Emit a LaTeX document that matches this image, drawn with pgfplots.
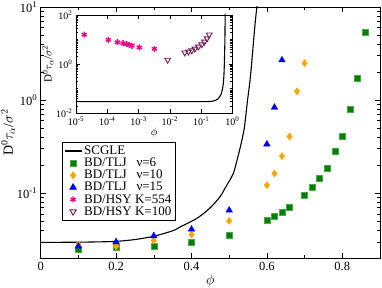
\documentclass[border=0pt]{standalone}
\usepackage{pgfplots}
\pgfplotsset{compat=1.18}
\usepackage{fontspec}
\setmainfont{Liberation Serif}
\definecolor{grn}{RGB}{0,128,0}
\definecolor{org}{RGB}{255,165,0}
\definecolor{mar}{RGB}{115,30,85}
\begin{document}
\begin{tikzpicture}
\useasboundingbox (-40.7pt,-29.7pt) rectangle (341.3pt,258.3pt);
\begin{axis}[
  at={(0pt,0pt)}, anchor=south west, scale only axis,
  width=339.3pt, height=251.3pt,
  xmin=0, xmax=0.9, ymode=log, log basis y=10, ymin=0.02, ymax=10,
  xtick={0,0.2,0.4,0.6,0.8}, minor xtick={0.1,0.3,0.5,0.7},
  xticklabel style={/pgf/number format/assume math mode=true, /pgf/number format/fixed},
  yticklabel={\pgfmathtruncatemacro\e{round(\tick)}10\textsuperscript{\e}},
  tick align=inside, axis line style={line width=0.9pt},
  major tick length=5pt, minor tick length=3pt,
  every tick/.style={black, line width=0.6pt},
  tick label style={font=\fontsize{12.5}{14}\selectfont},
  xlabel={$\phi$}, ylabel={D\textsuperscript{0}$\tau_\alpha$/$\sigma^2$},
  label style={font=\fontsize{14}{16}\selectfont},
  xlabel style={yshift=3pt}, ylabel style={yshift=-5pt},
  legend style={at={(0.0619,0.464)}, anchor=north west, draw=black, line width=0.6pt,
    font=\fontsize{13}{14}\selectfont, row sep=-2pt, inner sep=2pt},
  legend cell align=left,
]
\addplot[black, line width=1.1pt, smooth] coordinates {
 (0,0.0297) (0.05,0.0297) (0.1,0.0298) (0.15,0.0300) (0.2,0.0304) (0.25,0.0318)
 (0.3,0.0345) (0.35,0.0395) (0.37,0.0434) (0.4,0.050) (0.42,0.0556) (0.45,0.070)
 (0.475,0.091) (0.49,0.115) (0.5,0.135) (0.511,0.163) (0.52,0.22) (0.53,0.32)
 (0.54,0.50) (0.548,0.95) (0.555,1.6) (0.56,2.6) (0.565,4.5) (0.57,7.5) (0.574,10.5)};
\addlegendentry{SCGLE}
\addplot[only marks, mark=square*, mark size=3pt, color=grn, mark options={fill=grn, draw=grn!70!white}] coordinates {
 (0.1,0.025) (0.2,0.0265) (0.3,0.027) (0.4,0.030) (0.5,0.0356) (0.6,0.0508)
 (0.62,0.0566) (0.64,0.062) (0.66,0.0713) (0.70,0.0944) (0.72,0.116) (0.74,0.145)
 (0.76,0.187) (0.78,0.285) (0.80,0.413) (0.82,0.794) (0.84,1.71) (0.86,5.35)};
\addlegendentry{BD/TLJ\ \ \ ν=6}
\addplot[only marks, mark=diamond*, mark size=3.6pt, color=org] coordinates {
 (0.1,0.028) (0.2,0.0269) (0.3,0.031) (0.4,0.036) (0.5,0.0505) (0.6,0.122)
 (0.62,0.163) (0.64,0.25) (0.66,0.407) (0.68,1.24) (0.70,2.5)};
\addlegendentry{BD/TLJ\ \ \ ν=10}
\addplot[only marks, mark=triangle*, mark size=3.8pt, color=blue] coordinates {
 (0.1,0.0269) (0.2,0.030) (0.3,0.0348) (0.4,0.041) (0.5,0.0656) (0.6,0.336)
 (0.62,0.835) (0.64,2.69)};
\addlegendentry{BD/TLJ\ \ \ ν=15}
\addlegendimage{only marks, mark=asterisk, mark size=3pt, color=magenta, line width=1.3pt}
\addlegendentry{BD/HSY K=554}
\addlegendimage{only marks, mark=triangle, mark size=3.6pt, color=mar, line width=0.9pt, mark options={rotate=180}}
\addlegendentry{BD/HSY K=100}
\end{axis}
\begin{axis}[
  at={(35.3pt,145pt)}, anchor=south west, scale only axis,
  width=156.5pt, height=98.3pt,
  xmode=log, ymode=log, log basis x=10, log basis y=10,
  xmin=1e-5, xmax=1, ymin=0.01, ymax=100,
  xtick={1e-5,1e-4,1e-3,1e-2,1e-1,1},
  ytick={0.01,1,100},
  minor ytick={0.02,0.03,0.04,0.05,0.06,0.07,0.08,0.09,0.1,0.2,0.3,0.4,0.5,0.6,0.7,0.8,0.9,
    2,3,4,5,6,7,8,9,10,20,30,40,50,60,70,80,90},
  xticklabel={\pgfmathtruncatemacro\e{round(\tick)}10\textsuperscript{\e}},
  yticklabel={\pgfmathtruncatemacro\e{round(\tick)}10\textsuperscript{\e}},
  tick align=inside, axis line style={line width=0.9pt},
  major tick length=4pt, minor tick length=2.5pt,
  every tick/.style={black, line width=0.5pt},
  tick label style={font=\fontsize{10}{11}\selectfont},
  xlabel={$\phi$}, ylabel={D\textsuperscript{0}$\tau_\alpha$/$\sigma^2$},
  label style={font=\fontsize{11}{12}\selectfont},
  xlabel style={yshift=4pt}, ylabel style={yshift=-4pt},
  axis background/.style={fill=white},
]
\addplot[black, line width=1.1pt, smooth] coordinates {
 (0.00001,0.0297) (0.001,0.0297) (0.05,0.0297) (0.1,0.0298) (0.15,0.0300) (0.2,0.0304) (0.25,0.0318)
 (0.3,0.0345) (0.35,0.0395) (0.4,0.050) (0.45,0.070)
 (0.5,0.135) (0.53,0.32) (0.548,0.95) (0.56,2.6) (0.57,7.5) (0.576,20) (0.58,60) (0.583,150)};
\addplot[only marks, mark=asterisk, mark size=3pt, color=magenta, line width=1.3pt] coordinates {
 (1.84e-5,15.8) (1.08e-4,9.7) (2.1e-4,7.8) (3.2e-4,7.1) (4.2e-4,6.5) (5e-4,6.1)
 (6.1e-4,5.6) (1.05e-3,4.8) (3.2e-3,4.2)};
\addplot[only marks, mark=triangle, mark size=3.3pt, color=mar, line width=0.9pt, mark options={rotate=180}] coordinates {
 (8.5e-3,1.49) (0.030,2.93) (0.039,3.2) (0.050,3.6) (0.063,4.2) (0.081,5.1)
 (0.104,6.3) (0.126,8.1) (0.154,11) (0.18,15.8)};
\end{axis}
\end{tikzpicture}
\end{document}
